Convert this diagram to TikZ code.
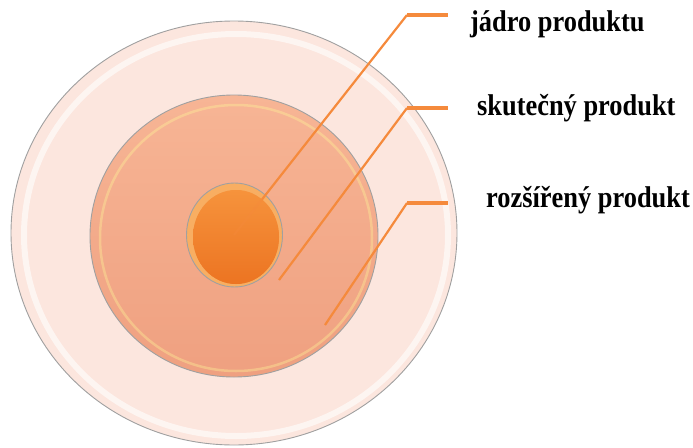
\documentclass[tikz,border=0pt]{standalone}
\usepackage{fontspec}
\setmainfont{Liberation Serif}
\definecolor{leader}{HTML}{F58A3C}
\definecolor{ringout}{HTML}{FCE6DE}
\definecolor{ringmidtop}{HTML}{F7B595}
\definecolor{ringmidbot}{HTML}{EFA080}
\definecolor{corerim}{HTML}{F8AE62}
\definecolor{coretop}{HTML}{F6933C}
\definecolor{corebot}{HTML}{EC7422}
\definecolor{rimgray}{HTML}{A0A0A0}
\tikzset{
  rim/.style={draw=rimgray, line width=0.9pt},
  leaderline/.style={leader, line width=2.2pt},
  leaderbar/.style={leader, line width=4pt},
  lbl/.style={anchor=base west, inner sep=0pt, xscale=0.88,
    font=\fontsize{30}{30}\selectfont\bfseries}
}
\begin{document}
\begin{tikzpicture}[x=1pt,y=-1pt]
\useasboundingbox (0,0) rectangle (693,447);
% outer ring
\draw[rim, fill=ringout] (234,233) ellipse [x radius=223, y radius=212];
\draw[white, line width=6pt, opacity=0.6] (236,235) ellipse [x radius=212, y radius=201];
% middle ring
\shade[top color=ringmidtop, bottom color=ringmidbot] (234,236) ellipse [x radius=144, y radius=141];
\draw[rim] (234,236) ellipse [x radius=144, y radius=141];
\draw[white!60!yellow, line width=2.5pt, opacity=0.35] (236,238) ellipse [x radius=136, y radius=133];
% core
\draw[rim, fill=corerim] (234.5,235) ellipse [x radius=48, y radius=52];
\shade[top color=coretop, bottom color=corebot] (236,237) ellipse [x radius=43, y radius=47];
% leaders
\coordinate (jadroin) at (234,235);
\coordinate (jadrobend) at (407,15);
\coordinate (jadrotip) at (448,15);
\coordinate (skutin) at (279,280);
\coordinate (skutbend) at (407,108);
\coordinate (skuttip) at (448,108);
\coordinate (rozsin) at (325,325);
\coordinate (rozsbend) at (407,203);
\coordinate (rozstip) at (448,203);
\draw[leaderline] (jadroin) -- (jadrobend);
\draw[leaderbar] (jadrobend) -- (jadrotip);
\draw[leaderline] (skutin) -- (skutbend);
\draw[leaderbar] (skutbend) -- (skuttip);
\draw[leaderline] (rozsin) -- (rozsbend);
\draw[leaderbar] (rozsbend) -- (rozstip);
\shade[top color=coretop, bottom color=corebot, opacity=0.65] (236,237) ellipse [x radius=43, y radius=47];
% labels
\node (jadro) at (470,31) [lbl] {jádro produktu};
\node (skutecny) at (477,115) [lbl] {skutečný produkt};
\node (rozsireny) at (486,207) [lbl] {rozšířený produkt};
\end{tikzpicture}
\end{document}
